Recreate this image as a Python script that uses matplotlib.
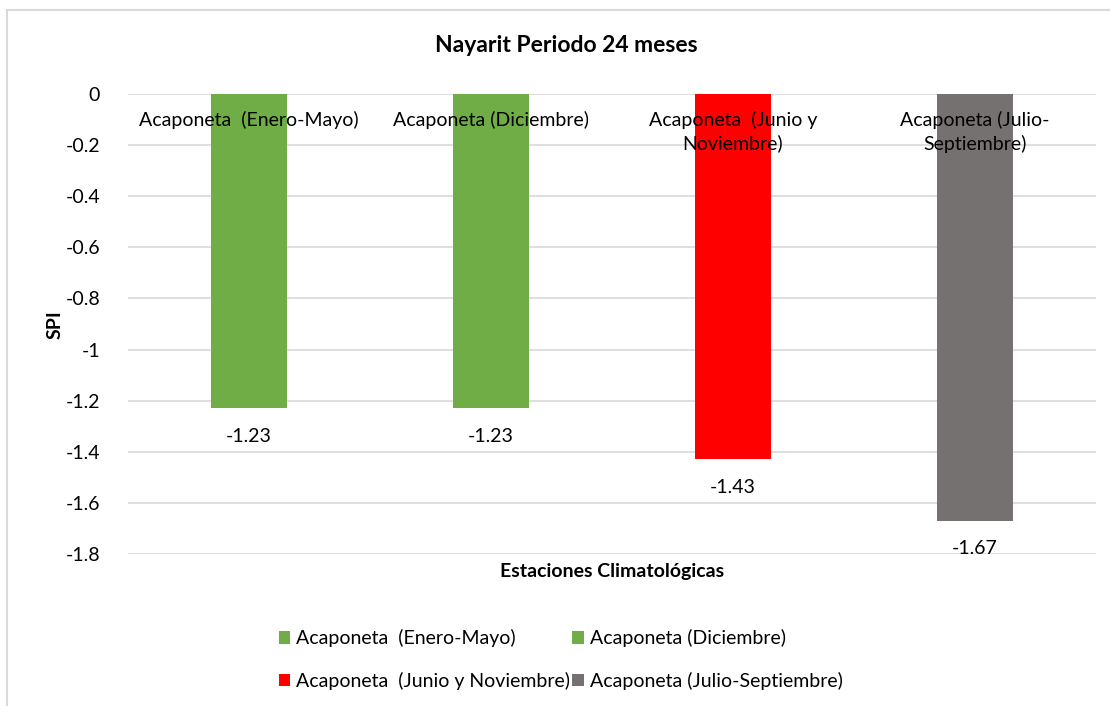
import matplotlib
matplotlib.use('Agg')

import matplotlib.pyplot as plt
from matplotlib.patches import Patch, Rectangle

plt.rcParams['font.family'] = ['Lato', 'DejaVu Sans']

# data
estaciones = ['Acaponeta  (Enero-Mayo)', 'Acaponeta (Diciembre)',
              'Acaponeta  (Junio y Noviembre)', 'Acaponeta (Julio-Septiembre)']
etiquetas = ['Acaponeta  (Enero-Mayo)', 'Acaponeta (Diciembre)',
             'Acaponeta  (Junio y\nNoviembre)', 'Acaponeta (Julio-\nSeptiembre)']
spi = [-1.23, -1.23, -1.43, -1.67]
colores = ['#70AD47', '#70AD47', '#FF0000', '#767171']
yticks = [0, -0.2, -0.4, -0.6, -0.8, -1, -1.2, -1.4, -1.6, -1.8]
ytick_labels = ['0', '-0.2', '-0.4', '-0.6', '-0.8', '-1', '-1.2', '-1.4', '-1.6', '-1.8']

fig = plt.figure(figsize=(11.1, 7.06), dpi=100)
ax = fig.add_axes([0.1153, 0.2153, 0.8721, 0.6516])

x = range(len(spi))
ax.bar(x, spi, width=0.314, color=colores, zorder=2)

ax.set_xlim(-0.5, len(spi) - 0.5)
ax.set_ylim(-1.8, 0)
ax.set_yticks(yticks)
ax.set_yticklabels(ytick_labels, fontsize=14)
ax.set_xticks([])
ax.tick_params(axis='y', length=0, pad=20)
ax.grid(axis='y', color='#D9D9D9', linewidth=1.2, zorder=0)
for s in ax.spines.values():
    s.set_visible(False)

# category labels drawn at the zero line
for i, lab in enumerate(etiquetas):
    ax.text(i, -0.068, lab, ha='center', va='top', fontsize=14,
            color='#000000', linespacing=1.35, zorder=3)

# value labels
for i, v in enumerate(spi):
    ax.annotate('%.2f' % v, (i, v), xytext=(0, -14), textcoords='offset points',
                ha='center', va='top', fontsize=14)

fig.text(0.51, 0.936, 'Nayarit Periodo 24 meses', ha='center', va='center',
         fontsize=16.5, fontweight='bold')
fig.text(0.0495, 0.54, 'SPI', ha='center', va='center', rotation=90,
         fontsize=14, fontweight='bold')
fig.text(0.551, 0.19, 'Estaciones Climatológicas', ha='center', va='center',
         fontsize=14, fontweight='bold')

orden = [0, 2, 1, 3]  # legend fills column by column
handles = [Patch(facecolor=colores[k], label=estaciones[k]) for k in orden]
fig.legend(handles=handles, ncol=2, loc='center', bbox_to_anchor=(0.505, 0.066),
           frameon=False, fontsize=14, handlelength=0.6, handleheight=0.6,
           handletextpad=0.3, columnspacing=0.1, labelspacing=1.25)

# chart border
fig.add_artist(Rectangle((7 / 1110, -0.1), 1.2, 1.1 - 10 / 706,
                         transform=fig.transFigure, fill=False,
                         edgecolor='#D9D9D9', linewidth=1.5))

plt.savefig('out.png', dpi=100)
